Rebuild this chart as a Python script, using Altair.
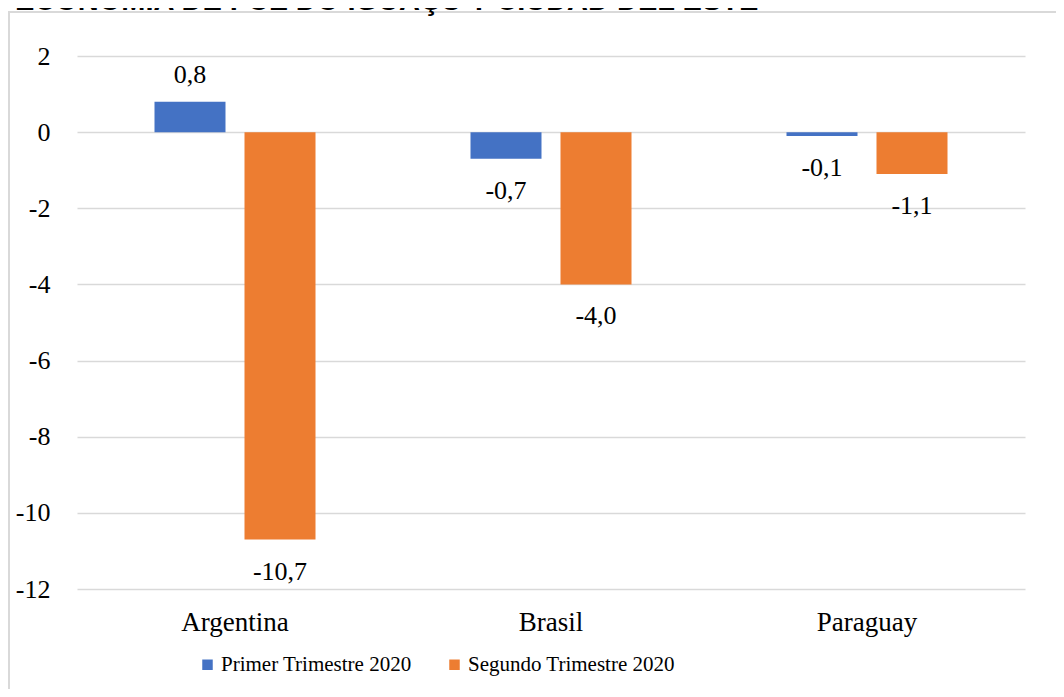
import altair as alt
import pandas as pd

countries = ["Argentina", "Brasil", "Paraguay"]
series = ["Primer Trimestre 2020", "Segundo Trimestre 2020"]
primer = [0.8, -0.7, -0.1]
segundo = [-10.7, -4.0, -1.1]
colors = ["#4472C4", "#ED7D31"]
y_ticks = [2, 0, -2, -4, -6, -8, -10, -12]
title_text = "ECONOMÍA DE FOZ DO IGUAÇU Y CIUDAD DEL ESTE"

rows = []
for i, c in enumerate(countries):
    rows.append({"pais": c, "serie": series[0], "valor": primer[i]})
    rows.append({"pais": c, "serie": series[1], "valor": segundo[i]})
df = pd.DataFrame(rows)

FONT = "Liberation Serif"

x_enc = alt.X("pais:N", sort=countries, title=None,
              scale=alt.Scale(paddingInner=0, paddingOuter=0),
              axis=alt.Axis(labelFont=FONT, labelFontSize=27, labelColor="#000000",
                            labelAngle=0, ticks=False, tickSize=0, domain=False,
                            grid=False, labelPadding=20))
xoff = alt.XOffset("serie:N", sort=series,
                   scale=alt.Scale(paddingInner=0.211, paddingOuter=0.861))
y_enc = alt.Y("valor:Q", title=None,
              scale=alt.Scale(domain=[-12, 2], nice=False, zero=False),
              axis=alt.Axis(values=y_ticks, labelFont=FONT, labelFontSize=26,
                            labelColor="#000000", ticks=False, tickSize=0, domain=False,
                            grid=True, gridColor="#D9D9D9", gridWidth=1.5,
                            labelPadding=27, labelAlign="right",
                            labelExpr="replace(format(datum.value, 'd'), '\u2212', '-')"))
color_enc = alt.Color("serie:N", sort=series,
                      scale=alt.Scale(domain=series, range=colors),
                      legend=alt.Legend(title=None, orient="none", direction="horizontal",
                                        legendX=120, legendY=598,
                                        symbolType="square", symbolSize=110,
                                        symbolStrokeWidth=0,
                                        labelFont=FONT, labelFontSize=21,
                                        labelColor="#000000", labelOffset=3,
                                        labelLimit=0, columnPadding=32))

bars = alt.Chart(df).mark_bar(size=71).encode(
    x=x_enc, xOffset=xoff, y=y_enc, color=color_enc
)

label_expr = "replace(replace(format(datum.valor, '.1f'), '.', ','), '\u2212', '-')"

pos_labels = alt.Chart(df).transform_filter("datum.valor >= 0").transform_calculate(
    lab=label_expr
).mark_text(font=FONT, fontSize=26, color="#000000", dy=-19, baseline="alphabetic").encode(
    x=alt.X("pais:N", sort=countries), xOffset=xoff, y="valor:Q", text="lab:N"
)

neg_labels = alt.Chart(df).transform_filter("datum.valor < 0").transform_calculate(
    lab=label_expr
).mark_text(font=FONT, fontSize=26, color="#000000", dy=40, baseline="alphabetic").encode(
    x=alt.X("pais:N", sort=countries), xOffset=xoff, y="valor:Q", text="lab:N"
)

frame = alt.Chart(alt.Data(values=[{"k": 1}])).mark_rect(
    fillOpacity=0, stroke="#D9D9D9", strokeWidth=2
).encode(x=alt.value(-68), x2=alt.value(1010), y=alt.value(-44), y2=alt.value(700))

title_mark = alt.Chart(alt.Data(values=[{"t": title_text}])).mark_text(
    font="Liberation Sans", fontWeight="bold", fontSize=29, color="#000000",
    align="left", baseline="alphabetic"
).encode(x=alt.value(-62), y=alt.value(-46), text="t:N")

chart = alt.layer(frame, bars, pos_labels, neg_labels, title_mark).properties(
    width=948, height=533,
    padding={"left": 69, "top": 48, "right": 31, "bottom": 100},
    autosize=alt.AutoSizeParams(type="none"),
    background="#FFFFFF",
).configure_view(stroke=None).configure_legend(
    labelFont=FONT, labelFontSize=21, labelColor="#000000"
)

chart.save("out.html", embed_options={"renderer": "svg", "actions": False})
